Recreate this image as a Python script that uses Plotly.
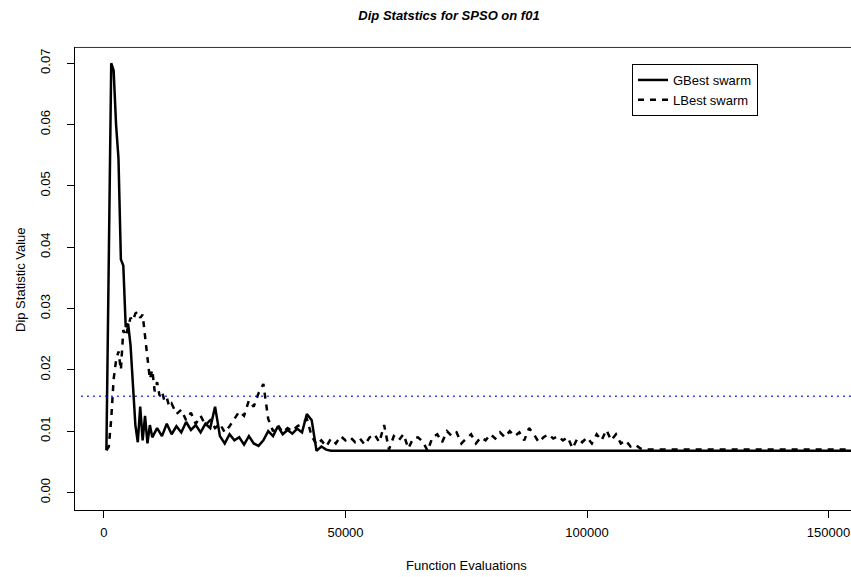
import plotly.graph_objects as go

# ---- data ----
gbest_x = [500, 1500, 2000, 2500, 3000, 3500, 4000, 4500, 5000, 5500, 6000, 6500, 7000, 7500,
           8000, 8500, 9000, 9500, 10000, 11000, 12000, 13000, 14000, 15000, 16000, 17000, 18000,
           19000, 20000, 21000, 22000, 23000, 24000, 25000, 26000, 27000, 28000, 29000, 30000,
           31000, 32000, 33000, 34000, 35000, 36000, 37000, 38000, 39000, 40000, 41000, 42000,
           43000, 44000, 45000, 46000, 47000, 165000]
gbest_y = [0.0069, 0.0700, 0.0688, 0.0600, 0.0545, 0.0380, 0.0370, 0.0270, 0.0275, 0.0240,
           0.0175, 0.0110, 0.0082, 0.0140, 0.0085, 0.0125, 0.0080, 0.0110, 0.0090, 0.0105,
           0.0092, 0.0112, 0.0095, 0.0108, 0.0098, 0.0115, 0.0102, 0.0110, 0.0098, 0.0112,
           0.0105, 0.0140, 0.0092, 0.0080, 0.0095, 0.0085, 0.0090, 0.0078, 0.0092, 0.0080,
           0.0076, 0.0085, 0.0100, 0.0092, 0.0108, 0.0095, 0.0102, 0.0096, 0.0104, 0.0098,
           0.0128, 0.0118, 0.0068, 0.0075, 0.0070, 0.0068, 0.0068]

lbest_x = [500, 1000, 1500, 2000, 2500, 3000, 3500, 4000, 4500, 5000, 5500, 6000, 6500, 7000,
           7500, 8000, 8500, 9000, 9500, 10000, 10500, 11000, 11500, 12000, 12500, 13000, 13500,
           14000] + list(range(15000, 113000, 1000)) + [165000]
lbest_y = [0.0069, 0.0075, 0.0120, 0.0185, 0.0215, 0.0230, 0.0200, 0.0265, 0.0255, 0.0270,
           0.0285, 0.0280, 0.0292, 0.0295, 0.0285, 0.0290, 0.0255, 0.0230, 0.0185, 0.0200,
           0.0165, 0.0180, 0.0158, 0.0165, 0.0150, 0.0155, 0.0140, 0.0145,
           # 15000 .. 112000
           0.0128, 0.0135, 0.0118, 0.0130, 0.0112, 0.0125, 0.0110, 0.0118, 0.0105, 0.0112,
           0.0098, 0.0108, 0.0120, 0.0132, 0.0125, 0.0150, 0.0140, 0.0162, 0.0177, 0.0120,
           0.0100, 0.0110, 0.0098, 0.0105, 0.0100, 0.0108, 0.0112, 0.0120, 0.0092, 0.0078,
           0.0085, 0.0075, 0.0088, 0.0080, 0.0092, 0.0085, 0.0090, 0.0082, 0.0088, 0.0078,
           0.0090, 0.0095, 0.0082, 0.0110, 0.0070, 0.0092, 0.0085, 0.0095, 0.0072, 0.0088,
           0.0090, 0.0083, 0.0068, 0.0090, 0.0095, 0.0082, 0.0100, 0.0092, 0.0098, 0.0080,
           0.0088, 0.0095, 0.0080, 0.0090, 0.0085, 0.0095, 0.0088, 0.0098, 0.0090, 0.0100,
           0.0092, 0.0098, 0.0085, 0.0105, 0.0095, 0.0082, 0.0090, 0.0095, 0.0088, 0.0092,
           0.0085, 0.0090, 0.0072, 0.0088, 0.0082, 0.0090, 0.0080, 0.0095, 0.0085, 0.0102,
           0.0085, 0.0095, 0.0080, 0.0085, 0.0075, 0.0078, 0.0072, 0.0070,
           0.0070]

critical_value = 0.0157
x_ticks = [0, 50000, 100000, 150000]
y_ticks = [0.00, 0.01, 0.02, 0.03, 0.04, 0.05, 0.06, 0.07]

FONT = "Liberation Sans, Arial, sans-serif"
W, H = 851, 577
L, T, B = 75, 47, 67
PW, PH = W - L, H - T - B

fig = go.Figure()
fig.add_trace(go.Scatter(x=gbest_x, y=gbest_y, mode="lines", name="GBest swarm",
                         line=dict(color="black", width=2.5)))
fig.add_trace(go.Scatter(x=lbest_x, y=lbest_y, mode="lines", name="LBest swarm",
                         line=dict(color="black", width=2.5, dash="6px,6px")))

fig.add_shape(type="line", xref="paper", yref="y", x0=0.008, x1=1,
              y0=critical_value, y1=critical_value,
              line=dict(color="#0000ff", width=1.5, dash="1.5px,4.5px"))
# top frame line
fig.add_shape(type="line", xref="paper", yref="paper", x0=0, x1=1, y0=0.999, y1=0.999,
              layer="above", line=dict(color="#333333", width=1))

# axis titles as annotations for exact placement
fig.add_annotation(text="Function Evaluations", xref="paper", yref="paper",
                   x=(466 - L) / PW, y=-(565 - (H - B)) / PH, showarrow=False,
                   xanchor="center", yanchor="middle", font=dict(size=13))
fig.add_annotation(text="Dip Statistic Value", xref="paper", yref="paper",
                   x=-(L - 20) / PW, y=(H - B - 280) / PH, showarrow=False, textangle=-90,
                   xanchor="center", yanchor="middle", font=dict(size=13))

fig.update_layout(
    width=W, height=H, autosize=False,
    margin=dict(l=L, r=0, t=T, b=B),
    paper_bgcolor="white", plot_bgcolor="white",
    font=dict(family=FONT, size=13, color="black"),
    title=dict(text="<b><i>Dip Statstics for SPSO on f01</i></b>", x=449/851, xanchor="center",
               y=1 - 15/577, yanchor="middle", font=dict(size=13)),
    showlegend=True,
    legend=dict(x=(632-75)/776, y=(510-64)/463, xanchor="left", yanchor="top",
                bordercolor="black", borderwidth=1, bgcolor="white",
                font=dict(size=13), itemwidth=30, tracegroupgap=0),
    xaxis=dict(range=[-6000, 154650], tickvals=x_ticks, ticktext=[str(v) for v in x_ticks],
               automargin=False,
               showgrid=False, zeroline=False, showline=True, linecolor="black", linewidth=1,
               ticks="outside", ticklen=7, tickcolor="black", ticklabelstandoff=3),
    yaxis=dict(range=[-0.00285, 0.07264], tickvals=y_ticks, automargin=False,
               ticktext=["%.2f" % v for v in y_ticks], tickangle=-90,
               showgrid=False, zeroline=False, showline=True, linecolor="black", linewidth=1,
               ticks="outside", ticklen=7, tickcolor="black", ticklabelstandoff=12),
)

fig.write_html("out.html", config={"displayModeBar": False},
               post_script="document.body.style.margin='0';document.body.style.overflow='hidden';")
